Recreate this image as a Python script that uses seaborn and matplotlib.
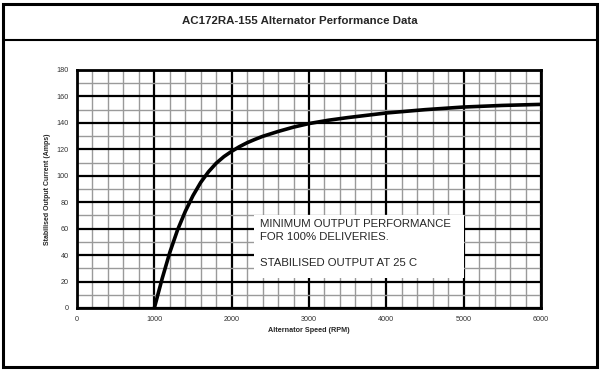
import matplotlib
matplotlib.use("Agg")
import matplotlib.pyplot as plt
import seaborn as sns
import pandas as pd
from matplotlib.patches import Rectangle
from matplotlib.lines import Line2D
from matplotlib.ticker import MultipleLocator

title = "AC172RA-155 Alternator Performance Data"
xlabel = "Alternator Speed (RPM)"
ylabel = "Stabilised Output Current (Amps)"
note_lines = ["MINIMUM OUTPUT PERFORMANCE", "FOR 100% DELIVERIES.", "STABILISED OUTPUT AT 25 C"]

rpm = [1000, 1100, 1200, 1300, 1400, 1500, 1600, 1700, 1800, 1900, 2000,
       2100, 2200, 2300, 2400, 2600, 2800, 3000, 3250, 3500, 4000, 4500,
       5000, 5500, 6000]
amps = [0, 22, 42, 59, 73, 85, 95, 103, 109.5, 114.5, 118.5,
        122, 125, 127.5, 129.8, 133.5, 136.8, 139.5, 142, 144, 147.5, 150,
        152, 153.2, 154]

x_ticks = [0, 1000, 2000, 3000, 4000, 5000, 6000]
y_ticks = [0, 20, 40, 60, 80, 100, 120, 140, 160, 180]

sns.set_style("white")
plt.rcParams['font.family'] = ['Liberation Sans', 'DejaVu Sans']

fig = plt.figure(figsize=(6, 3.7), dpi=100)
W, H = 600, 370

# outer frame and title separator
fig.add_artist(Rectangle((3 / W, 3 / H), 594 / W, 363 / H, transform=fig.transFigure,
                         fill=False, edgecolor="black", linewidth=2.2))
fig.add_artist(Line2D([3 / W, 597 / W], [1 - 40 / H, 1 - 40 / H], transform=fig.transFigure,
                      color="black", linewidth=1.5))
fig.text(0.5, 1 - 21 / H, title, ha="center", va="center", fontsize=8.25, fontweight="bold")

ax = fig.add_axes([77 / W, 1 - 308 / H, 464 / W, 238 / H])
df = pd.DataFrame({"rpm": rpm, "amps": amps})

ax.set_xlim(0, 6000)
ax.set_ylim(0, 180)
ax.xaxis.set_major_locator(MultipleLocator(1000))
ax.xaxis.set_minor_locator(MultipleLocator(200))
ax.yaxis.set_major_locator(MultipleLocator(20))
ax.yaxis.set_minor_locator(MultipleLocator(10))
ax.grid(which="minor", color="#9a9a9a", linewidth=1.0)
ax.grid(which="major", color="black", linewidth=1.6)
ax.set_axisbelow(True)

sns.lineplot(data=df, x="rpm", y="amps", ax=ax, color="black", linewidth=2.6, zorder=3)

ax.add_patch(Rectangle((2290, 23), 2720, 47, facecolor="white", edgecolor="none", zorder=4))
ax.text(2370, 63.5, note_lines[0], fontsize=8.2, va="center", ha="left", zorder=5)
ax.text(2370, 54, note_lines[1], fontsize=8.2, va="center", ha="left", zorder=5)
ax.text(2370, 34, note_lines[2], fontsize=8.2, va="center", ha="left", zorder=5)

ax.set_xticks(x_ticks)
ax.set_yticks(y_ticks)
ax.set_xticklabels([str(v) for v in x_ticks])
ax.set_yticklabels([str(v) for v in y_ticks])
ax.tick_params(axis="both", which="both", length=0, labelsize=5.2, colors="#333333")
ax.tick_params(axis="x", pad=6)
ax.tick_params(axis="y", pad=6)
ax.set_xlabel(xlabel, fontsize=5.2, fontweight="bold", labelpad=3)
ax.set_ylabel(ylabel, fontsize=5.0, fontweight="bold", labelpad=4)
for s in ax.spines.values():
    s.set_color("black")
    s.set_linewidth(2.0)
    s.set_visible(True)

fig.savefig("out.png", dpi=100, facecolor="white")
